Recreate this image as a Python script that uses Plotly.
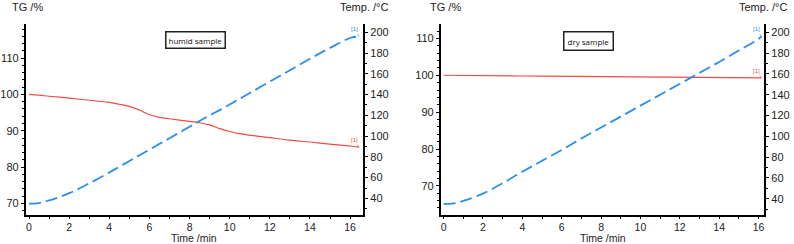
import plotly.graph_objects as go

# ---- data ----
humid_time = [0, 0.5, 1, 2, 3, 4, 4.5, 5, 5.5, 6, 6.5, 7, 8, 8.5, 9, 9.5, 10, 10.5, 11, 12, 13, 14, 15, 16, 16.45]
humid_tg = [100, 99.8, 99.5, 99.0, 98.4, 97.8, 97.3, 96.7, 95.7, 94.4, 93.7, 93.3, 92.6, 92.2, 91.6, 90.6, 89.8, 89.2, 88.8, 88.1, 87.4, 86.9, 86.3, 85.8, 85.5]
humid_temp = [35, 35.5, 38, 45, 54.5, 65, 70.5, 76, 81.5, 87, 92.5, 98, 109, 114.5, 120, 125, 130.5, 136, 141.5, 152.5, 163.5, 174.5, 185, 194.5, 196]

dry_time = [0, 0.5, 1, 2, 3, 4, 5, 6, 7, 8, 9, 10, 11, 12, 13, 14, 15, 16, 16.15]
dry_tg = [100, 100, 99.95, 99.9, 99.85, 99.8, 99.75, 99.7, 99.65, 99.6, 99.55, 99.5, 99.45, 99.4, 99.4, 99.4, 99.35, 99.3, 99.3]
dry_temp = [35, 35.5, 38, 45, 55, 66, 76.5, 87, 98, 108.5, 119, 129.5, 140, 150.5, 161, 171.5, 182.5, 193.5, 196]

x_ticks = [0, 2, 4, 6, 8, 10, 12, 14, 16]
tg_ticks_humid = [70, 80, 90, 100, 110]
tg_ticks_dry = [70, 80, 90, 100, 110]
temp_ticks = [40, 60, 80, 100, 120, 140, 160, 180, 200]

RED = "#ee4b43"
BLUE = "#2a8ff0"
FONT = "Liberation Sans, Arial, sans-serif"

fig = go.Figure()
fig.add_trace(go.Scatter(x=humid_time, y=humid_tg, mode="lines", line=dict(color=RED, width=1.2, shape="spline"),
                         xaxis="x", yaxis="y"))
fig.add_trace(go.Scatter(x=humid_time, y=humid_temp, mode="lines", line=dict(color=BLUE, width=1.8, dash="12px,5px", shape="spline"),
                         xaxis="x", yaxis="y2"))
fig.add_trace(go.Scatter(x=dry_time, y=dry_tg, mode="lines", line=dict(color=RED, width=1.2),
                         xaxis="x2", yaxis="y3"))
fig.add_trace(go.Scatter(x=dry_time, y=dry_temp, mode="lines", line=dict(color=BLUE, width=1.8, dash="12px,5px", shape="spline"),
                         xaxis="x2", yaxis="y4"))

tickfont = dict(family=FONT, size=11, color="#222")
xtickfont = dict(family=FONT, size=10.5, color="#222")
common = dict(showline=True, linecolor="black", linewidth=1.5, ticks="outside",
              tickcolor="black", showgrid=False, zeroline=False)

ydom = [29 / 244, 220 / 244]
fig.update_layout(
    width=794, height=244, margin=dict(l=0, r=0, t=0, b=0),
    paper_bgcolor="white", plot_bgcolor="white", showlegend=False,
    font=dict(family=FONT, size=11, color="#222"),
    xaxis=dict(domain=[22.7 / 794, 361.7 / 794], range=[-0.17, 16.66], tickvals=x_ticks, anchor="y", ticklen=2,
               tickfont=xtickfont,
               minor=dict(dtick=1, ticks="outside", ticklen=2, tickcolor="black"), **common),
    yaxis=dict(domain=ydom, range=[66.8, 119.4], tickvals=tg_ticks_humid, anchor="x", ticklen=3, tickfont=tickfont,
               minor=dict(dtick=2, ticks="outside", ticklen=2, tickcolor="black"), **common),
    yaxis2=dict(domain=ydom, range=[24, 208], tickvals=temp_ticks, anchor="x", overlaying="y", side="right", ticklen=3,
                tickfont=tickfont,
                minor=dict(dtick=10, ticks="outside", ticklen=2, tickcolor="black"), **common),
    xaxis2=dict(domain=[439.3 / 794, 764.3 / 794], range=[-0.15, 16.3], tickvals=x_ticks, anchor="y3", ticklen=2,
                tickfont=xtickfont,
                minor=dict(dtick=1, ticks="outside", ticklen=2, tickcolor="black"), **common),
    yaxis3=dict(domain=ydom, range=[62.1, 113.9], tickvals=tg_ticks_dry, anchor="x2", ticklen=3, tickfont=tickfont,
                minor=dict(dtick=2, ticks="outside", ticklen=2, tickcolor="black"), **common),
    yaxis4=dict(domain=ydom, range=[24.4, 208], tickvals=temp_ticks, anchor="x2", overlaying="y3", side="right", ticklen=3,
                tickfont=tickfont,
                minor=dict(dtick=10, ticks="outside", ticklen=2, tickcolor="black"), **common),
)

ann = []
# axis titles at top
for x, txt, anc in [(7 / 794, "TG /%", "left"), (388 / 794, "Temp. /°C", "right"),
                    (427 / 794, "TG /%", "left"), (789 / 794, "Temp. /°C", "right")]:
    ann.append(dict(xref="paper", yref="paper", x=x, y=1 - 7 / 244, text=txt, showarrow=False,
                    xanchor=anc, yanchor="middle", font=dict(family=FONT, size=11, color="#222")))
# x-axis titles
for x in [192 / 794, 602 / 794]:
    ann.append(dict(xref="paper", yref="paper", x=x, y=-2 / 244, text="Time /min", showarrow=False,
                    xanchor="center", yanchor="bottom", font=dict(family=FONT, size=10.5, color="#222")))
# sample boxes
ann.append(dict(xref="paper", yref="paper", x=193 / 794, y=1 - 40.5 / 244, text="humid sample", showarrow=False,
                xanchor="center", yanchor="middle",
                bordercolor="#222", borderwidth=1.5, borderpad=2, bgcolor="white",
                font=dict(family="Open Sans, sans-serif", size=8, color="#111")))
ann.append(dict(xref="paper", yref="paper", x=588 / 794, y=1 - 41 / 244, text="dry sample", showarrow=False,
                xanchor="center", yanchor="middle",
                bordercolor="#222", borderwidth=1.5, borderpad=3, bgcolor="white",
                font=dict(family="Open Sans, sans-serif", size=8, color="#111")))
# small curve markers near line ends
for xr, yr, xv, yv, col in [("x", "y2", humid_time[-1], humid_temp[-1], BLUE),
                            ("x", "y", humid_time[-1], humid_tg[-1], RED),
                            ("x2", "y4", dry_time[-1], dry_temp[-1], BLUE),
                            ("x2", "y3", dry_time[-1], dry_tg[-1], RED)]:
    ann.append(dict(xref=xr, yref=yr, x=xv, y=yv, text="[1]", showarrow=True, arrowhead=0, arrowwidth=0.6,
                    arrowcolor=col, ax=-5, ay=-7, font=dict(family=FONT, size=6, color=col)))
fig.update_layout(annotations=ann)

fig.write_html("out.html")
